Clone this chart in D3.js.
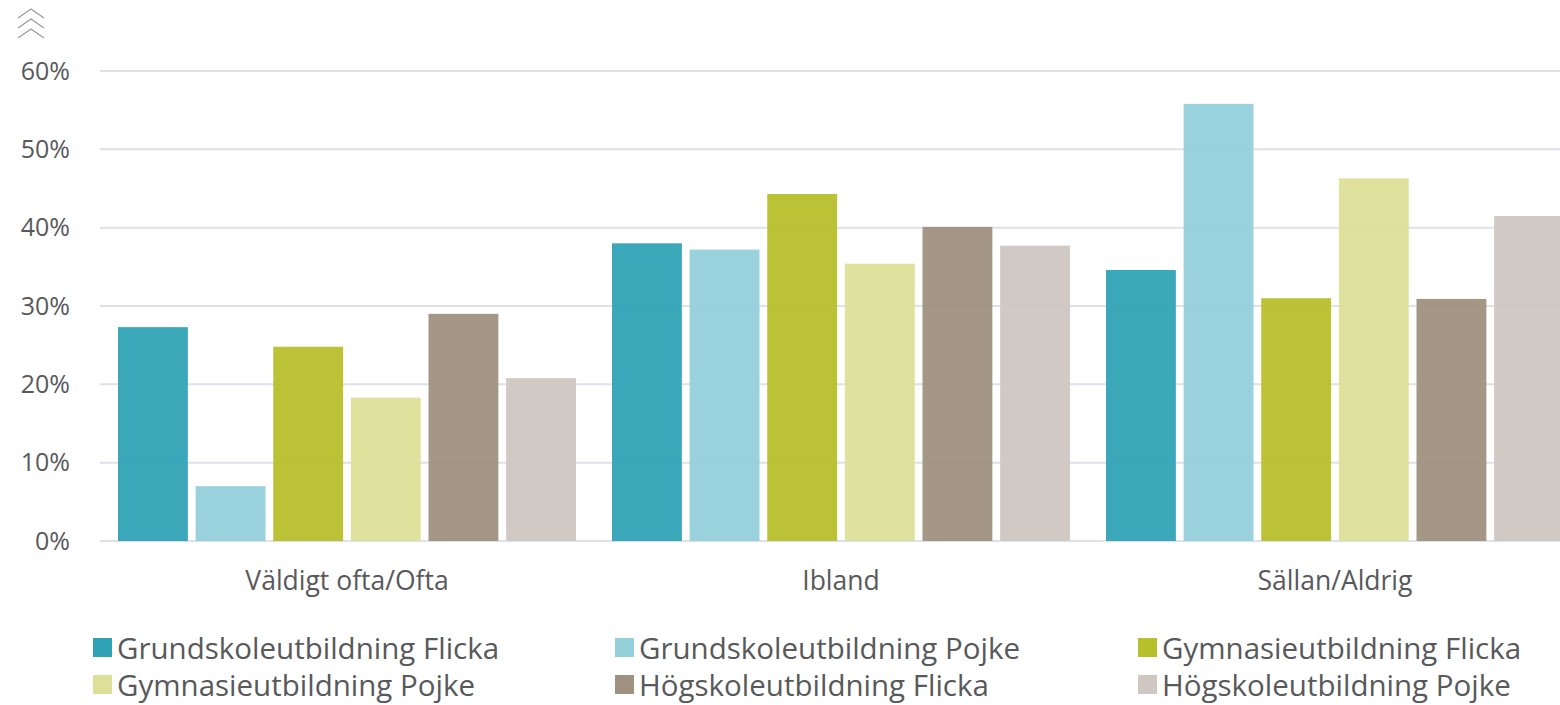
<!DOCTYPE html>
<html>
<head>
<meta charset="utf-8">
<script src="https://cdn.jsdelivr.net/npm/d3@7"></script>
<style>
  body { margin: 0; background: #fff; }
  svg { display: block; font-family: "Open Sans", "Noto Sans", sans-serif; }
</style>
</head>
<body>
<div id="chart"></div>
<script>
const categories = ["Väldigt ofta/Ofta", "Ibland", "Sällan/Aldrig"];
const seriesNames = [
  "Grundskoleutbildning Flicka",
  "Grundskoleutbildning Pojke",
  "Gymnasieutbildning Flicka",
  "Gymnasieutbildning Pojke",
  "Högskoleutbildning Flicka",
  "Högskoleutbildning Pojke"
];
// values in percent, per series, in category order
const grundFlicka = [27.3, 38.0, 34.6];
const grundPojke = [7.0, 37.2, 55.8];
const gymFlicka = [24.8, 44.3, 31.0];
const gymPojke = [18.3, 35.4, 46.3];
const hogFlicka = [29.0, 40.1, 30.9];
const hogPojke = [20.8, 37.7, 41.5];
const yTicks = [0, 10, 20, 30, 40, 50, 60];

const seriesValues = [grundFlicka, grundPojke, gymFlicka, gymPojke, hogFlicka, hogPojke];
const colors = ["#2fa3b5", "#94d0da", "#b7bf2b", "#dde098", "#9f9180", "#cfc7c1"];

const width = 1560, height = 705;
const margin = {top: 71, left: 100, bottom: 164};
const plotRight = 1582; // chart runs past the right edge

const svg = d3.select("#chart").append("svg")
  .attr("width", width)
  .attr("height", height);

const x0 = d3.scaleBand()
  .domain(categories)
  .range([margin.left, plotRight])
  .paddingInner(0)
  .paddingOuter(0);

const x1 = d3.scaleBand()
  .domain(seriesNames)
  .range([18, x0.bandwidth() - 18])
  .paddingInner(0.1)
  .paddingOuter(0);

const y = d3.scaleLinear()
  .domain([0, 60])
  .range([height - margin.bottom, margin.top]);

// gridlines
svg.append("g")
  .selectAll("line")
  .data(yTicks)
  .join("line")
    .attr("x1", margin.left)
    .attr("x2", width)
    .attr("y1", d => y(d))
    .attr("y2", d => y(d))
    .attr("stroke", "#dfe1ea")
    .attr("stroke-width", 2);

// y tick labels
svg.append("g")
  .selectAll("text")
  .data(yTicks)
  .join("text")
    .attr("x", 70)
    .attr("y", d => y(d))
    .attr("dy", "0.35em")
    .attr("text-anchor", "end")
    .attr("font-size", 25)
    .attr("fill", "#58595b")
    .text(d => d + "%");

// bars
const rows = [];
categories.forEach((c, ci) => {
  seriesNames.forEach((s, si) => rows.push({cat: c, series: s, si, value: seriesValues[si][ci]}));
});

svg.append("g")
  .selectAll("rect")
  .data(rows)
  .join("rect")
    .attr("x", d => x0(d.cat) + x1(d.series))
    .attr("y", d => y(d.value))
    .attr("width", x1.bandwidth())
    .attr("height", d => y(0) - y(d.value))
    .attr("fill", d => colors[d.si])
    .attr("fill-opacity", 0.95);

// category labels
svg.append("g")
  .selectAll("text")
  .data(categories)
  .join("text")
    .attr("x", d => x0(d) + x0.bandwidth() / 2)
    .attr("y", 590)
    .attr("text-anchor", "middle")
    .attr("font-size", 26.5)
    .attr("fill", "#58595b")
    .text(d => d);

// legend
const legendCols = [93, 615, 1138];
const legend = svg.append("g")
  .selectAll("g")
  .data(seriesNames)
  .join("g")
    .attr("transform", (d, i) => `translate(${legendCols[i % 3]}, ${i < 3 ? 659 : 696})`);

legend.append("rect")
  .attr("x", 0)
  .attr("y", -21)
  .attr("width", 19)
  .attr("height", 19)
  .attr("fill", (d, i) => colors[i]);

legend.append("text")
  .attr("x", 24)
  .attr("y", 0)
  .attr("font-size", 29.5)
  .attr("fill", "#58595b")
  .text(d => d);

// double chevron icon top-left
const chev = svg.append("g")
  .attr("fill", "none")
  .attr("stroke", "#9a9a9a")
  .attr("stroke-width", 1.3);
[18, 28, 38].forEach(cy => {
  chev.append("path").attr("d", `M18,${cy} L31,${cy - 9} L44,${cy}`);
});
</script>
</body>
</html>
